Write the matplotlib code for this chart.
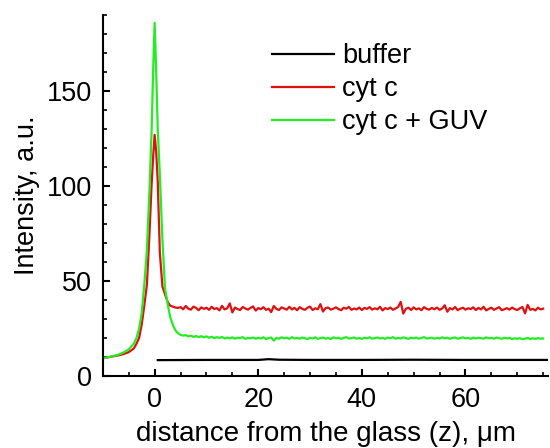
import numpy as np
import matplotlib
matplotlib.use('Agg')
import matplotlib.pyplot as plt
from matplotlib.ticker import MultipleLocator

plt.rcParams['font.family'] = ['Liberation Sans', 'DejaVu Sans']

# Perfil perto do pico (z, intensidade)
x_head = [-10, -9, -8, -7, -6, -5, -4, -3.5, -3, -2.5, -2, -1.5, -1, -0.6,
          -0.3, 0, 0.3, 0.6, 1, 1.5, 2, 2.5, 3, 3.5, 4, 4.5]
red_head = [9.5, 9.8, 10.3, 10.8, 11.5, 12.5, 14.5, 17.0, 20.0, 27.0, 37.0,
            48.0, 75.0, 100.0, 115.0, 127.0, 118.0, 102.0, 65.0, 47.0, 43.0,
            39.0, 37.0, 36.5, 36.0, 35.8]
green_head = [9.3, 9.8, 10.4, 11.2, 12.3, 14.0, 17.0, 20.0, 25.0, 33.0, 48.0,
              66.0, 98.0, 128.0, 160.0, 186.0, 160.0, 130.0, 106.0, 72.0,
              46.0, 38.0, 31.0, 27.0, 24.0, 22.5]

# Cauda, z de 5 a 75 a cada 0.5
x_tail = np.arange(5, 75.5, 0.5)
red_tail = [
    36.2, 35.1, 36.8, 35.4, 34.9, 36.5, 35.8, 34.6, 36.1, 35.3,
    35.9, 34.8, 36.4, 35.2, 35.7, 34.5, 36.9, 35.0, 35.6, 38.2,
    33.4, 36.0, 35.2, 34.7, 36.3, 35.5, 34.9, 35.8, 36.6, 34.4,
    35.7, 35.1, 36.2, 34.8, 35.4, 33.6, 36.8, 35.3, 34.7, 36.1,
    35.5, 34.9, 36.4, 35.0, 35.8, 34.6, 36.2, 35.3, 34.8, 35.9,
    36.5, 34.7, 35.6, 35.1, 37.8, 33.9, 35.7, 36.0, 34.9, 35.4,
    36.1, 35.2, 34.6, 35.9, 35.4, 36.3, 34.8, 35.5, 35.0, 36.0,
    34.7, 35.8, 35.3, 36.2, 34.9, 35.6, 35.1, 36.4, 34.5, 35.7,
    35.2, 36.0, 34.8, 35.5, 36.3, 39.0, 32.8, 35.4, 35.9, 34.7,
    36.1, 35.0, 35.6, 34.6, 36.2, 35.3, 34.9, 35.8, 35.1, 36.0,
    34.8, 35.5, 37.2, 33.8, 35.7, 35.0, 36.3, 34.6, 35.4, 35.9,
    34.9, 35.6, 35.2, 36.1, 34.7, 35.8, 35.0, 36.4, 34.5, 35.3,
    35.9, 34.8, 35.5, 36.2, 34.6, 35.1, 35.7, 34.9, 36.0, 35.2,
    34.7, 35.6, 36.3, 32.9, 37.4, 34.8, 35.3, 34.5, 35.9, 35.0,
    35.4]
green_tail = [
    21.6, 21.2, 21.5, 20.8, 21.2, 20.5, 21.0, 20.4, 20.9, 20.3,
    20.8, 20.1, 20.6, 19.9, 20.4, 20.0, 20.5, 19.7, 20.2, 19.8,
    20.3, 19.6, 20.1, 19.9, 20.4, 19.5, 20.0, 19.8, 20.2, 19.6,
    20.1, 19.7, 20.3, 19.4, 19.9, 20.2, 18.6, 20.0, 19.6, 20.3,
    19.8, 20.1, 19.5, 20.4, 19.7, 20.0, 19.6, 20.2, 19.8, 19.4,
    20.1, 19.7, 20.3, 19.5, 19.9, 20.2, 19.6, 20.0, 19.4, 20.3,
    19.8, 20.1, 19.5, 20.0, 20.4, 19.7, 19.9, 20.2, 19.6, 20.0,
    19.5, 20.1, 19.8, 20.3, 19.6, 19.9, 20.2, 19.7, 20.0, 19.5,
    20.2, 19.8, 20.4, 19.6, 20.0, 19.7, 20.3, 19.9, 19.5, 20.1,
    19.8, 20.2, 19.6, 20.0, 20.4, 19.7, 19.9, 20.1, 19.6, 20.0,
    19.7, 20.3, 19.8, 20.1, 19.5, 20.0, 20.2, 19.6, 19.9, 20.3,
    19.8, 20.0, 19.5, 20.2, 19.7, 20.1, 19.9, 19.6, 20.3, 19.8,
    20.0, 19.6, 20.2, 19.9, 19.5, 20.1, 19.7, 20.0, 19.4, 19.8,
    19.5, 19.9, 19.3, 19.6, 20.0, 19.4, 19.8, 19.5, 19.9, 19.6,
    19.7]

x_buffer = [0.6, 10, 20, 22, 24, 30, 40, 50, 60, 70, 76]
buffer = [8.3, 8.4, 8.4, 8.8, 8.5, 8.4, 8.4, 8.5, 8.4, 8.4, 8.4]

x_all = np.concatenate([x_head, x_tail])
red_all = np.concatenate([red_head, red_tail])
green_all = np.concatenate([green_head, green_tail])

fig = plt.figure(figsize=(5.5, 4.48), dpi=100)
ax = fig.add_axes([0.187, 0.161, 0.81, 0.805])

ax.plot(x_buffer, buffer, color='black', lw=1.6, label='buffer')
ax.plot(x_all, red_all, color='#e01010', lw=1.6, label='cyt c')
ax.plot(x_all, green_all, color='#22ee22', lw=1.6, label='cyt c + GUV')

ax.set_xlim(-10, 76)
ax.set_ylim(0, 190)
ax.xaxis.set_major_locator(MultipleLocator(20))
ax.xaxis.set_minor_locator(MultipleLocator(5))
ax.yaxis.set_major_locator(MultipleLocator(50))
ax.yaxis.set_minor_locator(MultipleLocator(10))

for s in ['top', 'right']:
    ax.spines[s].set_visible(False)
for s in ['left', 'bottom']:
    ax.spines[s].set_linewidth(1.5)

ax.tick_params(which='major', direction='in', length=5, width=1.5, labelsize=19.5, pad=8)
ax.tick_params(which='minor', direction='in', length=3, width=1.2)

ax.set_xlabel('distance from the glass (z), \u03bcm', fontsize=20, labelpad=6)
ax.set_ylabel('Intensity, a.u.', fontsize=19.5, labelpad=5)

ax.legend(loc='upper left', bbox_to_anchor=(0.379, 0.923), frameon=False,
          fontsize=19.5, handlelength=2.3, handletextpad=0.3, labelspacing=0.26,
          borderpad=0, borderaxespad=0)

plt.savefig('out.png', dpi=100)
